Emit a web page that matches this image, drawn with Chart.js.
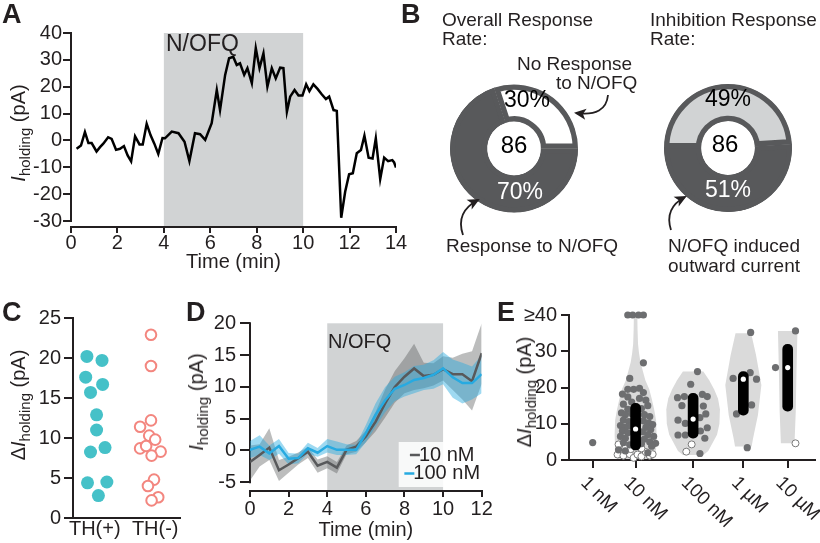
<!DOCTYPE html>
<html>
<head>
<meta charset="utf-8">
<script src="https://cdn.jsdelivr.net/npm/chart.js@4.4.1/dist/chart.umd.min.js"></script>
<style>
  body { margin: 0; background: #fff; }
  #fig { position: relative; width: 820px; height: 543px; overflow: hidden;
         font-family: "Liberation Sans", Arial, sans-serif; color: #231f20; }
  canvas { position: absolute; }
  .t { position: absolute; white-space: nowrap; line-height: 1; font-size: 19px; }
  .letter { font-weight: bold; font-size: 27px; }
  .yt { position: absolute; white-space: nowrap; line-height: 1; font-size: 20px;
        transform: translate(-50%, -50%) rotate(-90deg); }
  .yt sub { font-size: 15px; vertical-align: -5px; }
</style>
</head>
<body>
<div id="fig">
  <canvas id="chartA" width="410" height="285" style="left:0;top:0"></canvas>
  <canvas id="donutL" width="240" height="290" style="left:405px;top:0"></canvas>
  <canvas id="donutR" width="175" height="290" style="left:645px;top:0"></canvas>
  <canvas id="chartC" width="190" height="253" style="left:0;top:290px"></canvas>
  <canvas id="chartD" width="310" height="253" style="left:185px;top:290px"></canvas>
  <canvas id="chartE" width="325" height="253" style="left:495px;top:290px"></canvas>

  <div class="t letter" style="left:2px;top:1px">A</div>
  <div class="t letter" style="left:401px;top:1px">B</div>
  <div class="t letter" style="left:2px;top:299px">C</div>
  <div class="t letter" style="left:186px;top:299px">D</div>
  <div class="t letter" style="left:497px;top:299px">E</div>

  <div class="t" style="left:166px;top:32px;font-size:23px">N/OFQ</div>
  <div class="t" style="left:328px;top:331px;font-size:20px">N/OFQ</div>

  <div class="t" style="left:442px;top:10px">Overall Response</div>
  <div class="t" style="left:442px;top:29px">Rate:</div>
  <div class="t" style="left:517px;top:54px">No Response</div>
  <div class="t" style="left:556px;top:73px">to N/OFQ</div>
  <div class="t" style="left:446px;top:236px">Response to N/OFQ</div>
  <div class="t" style="left:650px;top:10px">Inhibition Response</div>
  <div class="t" style="left:650px;top:29px">Rate:</div>
  <div class="t" style="left:668px;top:236px">N/OFQ induced</div>
  <div class="t" style="left:668px;top:256px">outward current</div>

  <div class="yt" style="left:20px;top:133px"><i>I</i><sub>holding</sub> (pA)</div>
  <div class="yt" style="left:20px;top:405px">Δ<i>I</i><sub>holding</sub> (pA)</div>
  <div class="yt" style="left:198px;top:402px"><i>I</i><sub>holding</sub> (pA)</div>
  <div class="yt" style="left:526px;top:392px">Δ<i>I</i><sub>holding</sub> (pA)</div>
</div>

<script>
// ---------- dati ----------

// A: traccia singola
const aTime = [0.24, 0.43, 0.6, 0.75, 0.89, 1.1, 1.25, 1.39, 1.6, 1.75, 1.94, 2.11, 2.28, 2.44, 2.59, 2.76,
  2.95, 3.09, 3.26, 3.43, 3.59, 3.76, 3.94, 4.05, 4.34, 4.63, 4.89, 5.1, 5.34, 5.56, 5.78, 6.06, 6.28, 6.42,
  6.64, 6.81, 6.99, 7.14, 7.28, 7.46, 7.6, 7.79, 7.96, 8.12, 8.29, 8.46, 8.65, 8.82, 9.01, 9.15, 9.3, 9.44,
  9.63, 9.8, 9.97, 10.13, 10.27, 10.44, 10.62, 10.8, 10.98, 11.12, 11.31, 11.45, 11.64, 11.81, 11.98, 12.14,
  12.31, 12.49, 12.64, 12.82, 12.99, 13.13, 13.32, 13.49, 13.66, 13.84, 13.92, 14.0];
const aHolding = [-3.1, -1.9, 3.1, -1, -1, -4.1, -2.5, -1.2, 1.2, 0.6, -3.5, -3.1, -2.1, -5.6, -7.8, 1.5,
  -1.5, -1.5, 6.2, 1.9, -1.2, -5, 0.9, 0.8, 3.3, 2.7, -0.5, -7.7, 2.7, 2.3, 0.2, 6.4, 18.8, 11.3,
  24.4, 30.6, 31.1, 28.1, 28.7, 24.4, 26.9, 21.3, 34.3, 26.9, 32.4, 20, 26.9, 23.1, 27.1, 26.9, 10.7, 16.3,
  18.8, 16.7, 16.7, 20.9, 18.4, 20.9, 19.2, 17.2, 15.4, 16.3, 11.3, 11, -28.8, -19.1, -12.6, -12.2,
  -4.8, -3.6, 1.8, -6.4, -6.7, 0.8, -14.4, -6.4, -7.7, -7.3, -8.2, -10.1];
const aTicksX = [0, 2, 4, 6, 8, 10, 12, 14];
const aTicksY = [-30, -20, -10, 0, 10, 20, 30, 40];
const drugWindow = [4, 10];

// B: percentuali
const nCells = 86;
const overallPct = [70, 30];   // risposta, nessuna risposta
const inhibPct = [51, 49];     // corrente uscente, altro

// C: TH(+) / TH(-)
const thLabels = ['TH(+)', 'TH(-)'];
const thPos = [20.2, 19.7, 17.6, 16.7, 15.7, 12.9, 11.0, 8.8, 8.25, 4.4, 4.5, 2.8];
const thPosJit = [-0.13, 0.12, -0.15, 0.13, -0.07, 0.03, 0.03, 0.17, -0.07, -0.12, 0.2, 0.06];
const thNeg = [22.9, 19.0, 12.2, 11.4, 10.3, 9.8, 8.7, 9.0, 8.3, 7.8, 4.8, 4.0, 2.6, 2.2];
const thNegJit = [-0.07, -0.07, -0.07, -0.25, -0.1, 0.0, -0.25, -0.15, 0.09, -0.06, -0.02, -0.12, 0.05, -0.06];
const cTicksY = [0, 5, 10, 15, 20, 25];

// D: medie +/- SEM
const dTime = [0, 0.5, 1, 1.5, 2, 2.5, 3, 3.5, 4, 4.5, 5, 5.5, 6, 6.5, 7, 7.5, 8, 8.5, 9, 9.5, 10, 10.5, 11, 11.5, 12];
const d10Mean = [-1.8, -0.7, 0.45, -3.1, -2.2, -1.2, -0.2, -2.4, -1.8, -2.7, 0.1, 0.6, 2.2, 4.5, 7.4, 10, 11.6, 12.9, 11.7, 11.9, 12.8, 12, 12, 10.9, 15.3];
const d10Upper = [0.8, 1.0, 3.5, -1.5, -1.0, -0.3, 0.6, -1.4, -0.9, -1.8, 0.8, 1.5, 3.1, 6.0, 9.6, 12.5, 14.5, 16.8, 13.8, 13.7, 14.8, 14.6, 15.2, 15.6, 20.0];
const d10Lower = [-4.7, -2.5, -1.5, -4.8, -3.5, -2.2, -1.2, -3.5, -2.8, -3.6, -0.6, -0.2, 1.3, 3.0, 5.2, 7.5, 9.0, 9.5, 9.8, 10.2, 11.0, 9.5, 8.0, 6.3, 10.5];
const d100Mean = [0.1, 0.6, -0.45, 0.7, -1.3, -1.2, 0.35, -0.35, 0.7, 0.1, 0.1, 0.1, 2.7, 5.6, 7.9, 9.7, 10.3, 11.1, 11.4, 11.9, 12.9, 11.5, 10.6, 10.6, 12];
const d100Upper = [1.5, 2.4, 0.8, 1.8, -0.4, -0.5, 1.2, 0.4, 1.8, 1.4, 1.0, 0.9, 4.0, 7.4, 10.0, 11.6, 12.3, 13.3, 13.5, 14.2, 15.5, 14.3, 13.8, 13.2, 15.0];
const d100Lower = [-1.2, -0.7, -1.5, -0.5, -2.2, -2.0, -0.5, -1.0, -0.3, -0.7, -0.7, -0.6, 1.3, 3.7, 6.0, 7.8, 8.5, 9.0, 9.5, 9.7, 10.4, 8.3, 7.4, 8.0, 9.0];
const dTicksX = [0, 2, 4, 6, 8, 10, 12];
const dTicksY = [-5, 0, 5, 10, 15, 20];

// E: dose-risposta
const doseLabels = ['1 nM', '10 nM', '100 nM', '1 µM', '10 µM'];
const doseX = [0, 0.88, 2.06, 3.09, 4.0];
const eTicksY = [0, 10, 20, 30, 40];
const eFilled = [
  [[0, 4.8]],
  [[-0.16, 40], [-0.06, 40], [0.06, 40], [0.16, 40], [0.16, 26.8], [-0.12, 22.5],
   [-0.16, 19.5], [-0.04, 19.5], [0.08, 19.8], [0.16, 18.6], [-0.27, 18.2], [-0.16, 17.4], [0.08, 17.0],
   [0.21, 16.5], [-0.08, 16.0], [-0.25, 15.4], [0.25, 15.0], [-0.16, 14.0], [0.12, 14.2], [-0.29, 13.0],
   [-0.21, 12.5], [-0.08, 12.8], [0.18, 12.5], [0.29, 12.0], [-0.25, 11.0], [-0.14, 10.6], [0.16, 10.8],
   [0.27, 10.2], [0.35, 9.8], [-0.31, 9.5], [-0.21, 9.0], [-0.1, 9.4], [0.21, 9.0], [0.31, 8.4],
   [-0.27, 8.0], [-0.16, 7.5], [0.14, 7.8], [0.25, 7.0], [0.37, 6.5], [-0.31, 6.5], [-0.21, 6.0],
   [0.18, 5.8], [0.29, 5.0], [0.41, 4.6], [-0.25, 4.8], [-0.12, 4.2], [0.12, 4.5], [0.33, 3.8],
   [-0.35, 2.8], [-0.21, 2.5], [0.25, 2.0]],
  [[0.09, 24.4], [-0.05, 20.9], [-0.32, 17.2], [-0.18, 17.5], [0.19, 18.1], [0.29, 17.5], [-0.23, 15.0],
   [0.21, 14.9], [0.26, 12.7], [0.14, 11.7], [-0.31, 11.0], [-0.16, 10.1], [0.15, 8.0], [0.29, 8.9],
   [-0.31, 6.9], [-0.16, 6.9], [0.24, 6.0], [0.14, 1.8]],
  [[0.15, 35.2], [-0.21, 22.5], [0.14, 24.1], [0.27, 22.3], [0.17, 15.2], [-0.14, 12.7], [0.08, 3.4]],
  [[0.16, 35.6], [-0.25, 25.5]]
];
const eOpen = [
  [],
  [[-0.35, 4.3], [-0.21, 3.2], [-0.37, 1.5], [-0.25, 1.2], [-0.12, 1.6], [-0.04, 0.6], [0.04, 1.5],
   [0.12, 1.0], [0.21, 2.2], [0.29, 1.2], [0.35, 1.6], [-0.1, 3.0], [0.12, 3.2]],
  [[-0.03, 4.3], [-0.14, 2.3]],
  [],
  [[0.16, 4.6]]
];
const eQ1 = [null, 2.75, 6.0, 12.4, 13.5];
const eQ3 = [null, 15.6, 18.4, 24.4, 31.9];
const eMedian = [null, 8.55, 11.3, 22.3, 25.5];
// profili violino: [valore, semi-larghezza]
const eViolins = [
  null,
  [[0.3, 0.37], [3, 0.42], [7, 0.43], [11, 0.42], [14, 0.38], [17, 0.33], [19.5, 0.28], [22, 0.2],
   [24.5, 0.15], [27, 0.1], [29.5, 0.07], [32, 0.05], [36, 0.04], [40, 0.035]],
  [[1.4, 0.21], [2.5, 0.31], [4.5, 0.39], [7, 0.49], [10, 0.54], [14, 0.55], [17, 0.51], [19.5, 0.43],
   [22, 0.33], [24.4, 0.21]],
  [[3.7, 0.17], [6, 0.2], [12.4, 0.3], [20.7, 0.37], [29, 0.26], [35, 0.16]],
  [[4.6, 0.14], [13.3, 0.165], [24.4, 0.18], [35.6, 0.2]]
];

// ---------- stile ----------
const INK = '#231f20';
const DARK = '#58595b';
const BLUE = '#27aae1';
Chart.defaults.font.family = '"Liberation Sans", Arial, sans-serif';
Chart.defaults.font.size = 20;
Chart.defaults.color = INK;
Chart.defaults.animation = false;
Chart.defaults.events = [];
Chart.defaults.plugins.legend.display = false;
Chart.defaults.plugins.tooltip.enabled = false;

const tickFont = { size: 20, lineHeight: 1 };
const pts = (xs, ys) => xs.map((x, i) => ({ x: x, y: ys[i] }));
const fixedTicks = values => scale => { scale.ticks = values.map(v => ({ value: v })); };
const axisBox = size => scale => { if (scale.isHorizontal()) scale.height = size; else scale.width = size; };
const tickGrid = len => ({ drawOnChartArea: false, tickLength: len, lineWidth: 2, color: INK });

// fascia grigia del farmaco
const shade = (from, to) => ({
  id: 'shade',
  beforeDatasetsDraw(chart) {
    const { ctx, chartArea, scales: { x } } = chart;
    const x0 = x.getPixelForValue(from), x1 = x.getPixelForValue(to);
    ctx.save();
    ctx.fillStyle = '#d1d3d4';
    ctx.fillRect(x0, chartArea.top, x1 - x0, chartArea.bottom - 1 - chartArea.top);
    ctx.restore();
  }
});

// asse y staccato (solo dal primo all'ultimo tick)
const yLine = {
  id: 'yLine',
  beforeDatasetsDraw(chart) {
    const { ctx, chartArea, scales: { y } } = chart;
    const t = y.ticks;
    ctx.save();
    ctx.strokeStyle = INK;
    ctx.lineWidth = 2;
    ctx.beginPath();
    ctx.moveTo(chartArea.left, y.getPixelForValue(t[0].value) + 1);
    ctx.lineTo(chartArea.left, y.getPixelForValue(t[t.length - 1].value) - 1);
    ctx.stroke();
    ctx.restore();
  }
};

// ---------- A ----------
new Chart(document.getElementById('chartA'), {
  type: 'line',
  data: { datasets: [{ data: pts(aTime, aHolding), borderColor: '#000', borderWidth: 2.5, pointRadius: 0 }] },
  options: {
    responsive: false,
    layout: { padding: { top: 33, right: 14, left: 0, bottom: 0 } },
    scales: {
      x: {
        type: 'linear', min: 0, max: 14,
        afterBuildTicks: fixedTicks(aTicksX), afterFit: axisBox(58),
        grid: tickGrid(6), border: { width: 2, color: INK },
        ticks: { padding: 0, font: tickFont, maxRotation: 0 },
        title: { display: true, text: 'Time (min)', font: { size: 20 }, padding: { top: 0, bottom: 11 } }
      },
      y: {
        min: -32.23, max: 40,
        afterBuildTicks: fixedTicks(aTicksY), afterFit: axisBox(71),
        grid: tickGrid(8), border: { display: false },
        ticks: { padding: 1, font: tickFont }
      }
    }
  },
  plugins: [shade(drugWindow[0], drugWindow[1]), yLine]
});

// ---------- B ----------
function donutNotes(labels, arrows) {
  return {
    id: 'donutNotes',
    // anello scuro sotto gli archi, per non lasciare fessure tra gli spicchi
    beforeDatasetsDraw(chart) {
      const arc = chart.getDatasetMeta(0).data[0];
      const { ctx } = chart;
      ctx.save();
      ctx.fillStyle = DARK;
      ctx.beginPath();
      ctx.arc(arc.x, arc.y, arc.outerRadius - 0.5, 0, Math.PI * 2);
      ctx.arc(arc.x, arc.y, arc.innerRadius + 0.5, 0, Math.PI * 2, true);
      ctx.fill();
      ctx.restore();
    },
    afterDraw(chart) {
      const { ctx } = chart;
      const arc = chart.getDatasetMeta(0).data[0];
      const cx = arc.x, cy = arc.y;
      ctx.save();
      ctx.textAlign = 'center';
      ctx.textBaseline = 'middle';
      labels.forEach(l => {
        ctx.font = l.size + 'px "Liberation Sans", Arial, sans-serif';
        ctx.fillStyle = l.color;
        ctx.fillText(l.text, cx + l.dx, cy + l.dy);
      });
      ctx.strokeStyle = INK;
      ctx.fillStyle = INK;
      ctx.lineWidth = 1.8;
      arrows.forEach(([sx, sy, qx, qy, ex, ey]) => {
        ctx.beginPath();
        ctx.moveTo(cx + sx, cy + sy);
        ctx.quadraticCurveTo(cx + qx, cy + qy, cx + ex, cy + ey);
        ctx.stroke();
        const a = Math.atan2(ey - qy, ex - qx);
        ctx.save();
        ctx.translate(cx + ex, cy + ey);
        ctx.rotate(a);
        ctx.beginPath();
        ctx.moveTo(2, 0);
        ctx.lineTo(-10, -5.5);
        ctx.lineTo(-7, 0);
        ctx.lineTo(-10, 5.5);
        ctx.closePath();
        ctx.fill();
        ctx.restore();
      });
      ctx.restore();
    }
  };
}

function donut(id, values, colors, rotation, pad, notes) {
  new Chart(document.getElementById(id), {
    type: 'doughnut',
    data: { datasets: [{ data: values, backgroundColor: colors, borderColor: DARK, borderWidth: 5, borderAlign: 'inner' }] },
    options: {
      responsive: false, radius: 64, cutout: '42%', rotation: rotation,
      layout: { padding: pad }
    },
    plugins: [notes]
  });
}

// spicchio chiaro che termina a ore 3 (sinistra) / inizia a ore 9 (destra)
donut('donutL', overallPct, [DARK, '#ffffff'], 90, { left: 0, right: 22, top: 7, bottom: 0 },
  donutNotes([
    { text: String(nCells), dx: 0, dy: -2, size: 24, color: '#000' },
    { text: overallPct[1] + '%', dx: 13, dy: -48, size: 23, color: '#000' },
    { text: overallPct[0] + '%', dx: 6, dy: 44, size: 23, color: '#fff' }
  ], [
    [94, -53.5, 92, -31.5, 62, -35.5],
    [-51, 86.5, -59, 63.5, -36, 51.5]
  ]));

donut('donutR', inhibPct, [DARK, '#d1d3d4'], 270 - 3.6 * inhibPct[0], { left: 0, right: 9, top: 6, bottom: 0 },
  donutNotes([
    { text: String(nCells), dx: -3, dy: -3, size: 24, color: '#000' },
    { text: inhibPct[1] + '%', dx: 0, dy: -48, size: 23, color: '#000' },
    { text: inhibPct[0] + '%', dx: 0, dy: 43, size: 23, color: '#fff' }
  ], [
    [-57, 82, -64, 60, -43, 49]
  ]));

// ---------- C ----------
new Chart(document.getElementById('chartC'), {
  type: 'scatter',
  data: {
    datasets: [
      { data: thPos.map((v, i) => ({ x: 1 + thPosJit[i], y: v })), pointRadius: 6.5,
        backgroundColor: '#45c1c8', borderWidth: 0, clip: false },
      { data: thNeg.map((v, i) => ({ x: 2 + thNegJit[i], y: v })), pointRadius: 5.3,
        backgroundColor: '#ffffff', borderColor: '#f3867f', borderWidth: 2, clip: false }
    ]
  },
  options: {
    responsive: false,
    layout: { padding: { top: 28, right: 10, left: 0, bottom: 0 } },
    scales: {
      x: {
        type: 'linear', min: 0.64, max: 2.41,
        afterBuildTicks: fixedTicks([1, 2]), afterFit: axisBox(25),
        grid: { display: false, drawTicks: false, tickLength: 0 }, border: { width: 2, color: INK },
        ticks: { padding: 1, font: tickFont, maxRotation: 0, callback: (v, i) => thLabels[i] }
      },
      y: {
        min: 0, max: 25,
        afterBuildTicks: fixedTicks(cTicksY), afterFit: axisBox(73),
        grid: tickGrid(9), border: { width: 2, color: INK },
        ticks: { padding: 3, font: tickFont }
      }
    }
  }
});

// ---------- D ----------
const boxLegend = {
  id: 'boxLegend',
  afterDatasetsDraw(chart) {
    const { ctx, chartArea } = chart;
    const rows = [chart.data.datasets[1], chart.data.datasets[0]];
    const midX = chartArea.right - 39;
    ctx.save();
    ctx.fillStyle = 'rgba(255,255,255,0.85)';
    ctx.fillRect(chartArea.right - 83, chartArea.bottom - 49, 91, 45);
    ctx.font = '20px "Liberation Sans", Arial, sans-serif';
    ctx.textBaseline = 'middle';
    rows.forEach((ds, i) => {
      const y = chartArea.bottom - 36 + i * 18.5;
      const w = ctx.measureText(ds.label).width + 10;
      const x0 = midX - w / 2;
      ctx.strokeStyle = ds.borderColor;
      ctx.lineWidth = 2.5;
      ctx.beginPath();
      ctx.moveTo(x0, y);
      ctx.lineTo(x0 + 10, y);
      ctx.stroke();
      ctx.fillStyle = INK;
      ctx.fillText(ds.label, x0 + 9, y);
    });
    ctx.restore();
  }
};

const band = (ys, fill, color) => ({
  data: pts(dTime, ys), borderWidth: 0, borderColor: 'transparent', pointRadius: 0,
  fill: fill, backgroundColor: color
});

new Chart(document.getElementById('chartD'), {
  type: 'line',
  data: {
    datasets: [
      { label: '100 nM', data: pts(dTime, d100Mean), borderColor: BLUE, borderWidth: 2.5, pointRadius: 0 },
      { label: '10 nM', data: pts(dTime, d10Mean), borderColor: DARK, borderWidth: 2.5, pointRadius: 0 },
      band(d100Upper, '+1', 'rgba(39,170,225,0.45)'),
      band(d100Lower, false, 'transparent'),
      band(d10Upper, '+1', 'rgba(88,89,91,0.4)'),
      band(d10Lower, false, 'transparent')
    ]
  },
  options: {
    responsive: false,
    layout: { padding: { top: 33.3, right: 13.3, left: 0, bottom: 0 } },
    scales: {
      x: {
        type: 'linear', min: 0, max: 12,
        afterBuildTicks: fixedTicks(dTicksX), afterFit: axisBox(52),
        grid: tickGrid(6), border: { width: 2, color: INK },
        ticks: { padding: 2, font: tickFont, maxRotation: 0 },
        title: { display: true, text: 'Time (min)', font: { size: 20 }, padding: { top: 0, bottom: 0.5 } }
      },
      y: {
        min: -6.37, max: 20,
        afterBuildTicks: fixedTicks(dTicksY), afterFit: axisBox(65),
        grid: tickGrid(10), border: { display: false },
        ticks: { padding: 4, font: tickFont }
      }
    }
  },
  plugins: [shade(drugWindow[0], drugWindow[1]), yLine, boxLegend]
});

// ---------- E ----------
const violins = {
  id: 'violins',
  beforeDatasetsDraw(chart) {
    const { ctx, scales: { x, y } } = chart;
    ctx.save();
    ctx.fillStyle = '#dadada';
    eViolins.forEach((prof, i) => {
      if (!prof) return;
      ctx.beginPath();
      prof.forEach(([v, w], k) => {
        const px = x.getPixelForValue(doseX[i] - w), py = y.getPixelForValue(v);
        if (k) ctx.lineTo(px, py); else ctx.moveTo(px, py);
      });
      for (let k = prof.length - 1; k >= 0; k--) {
        ctx.lineTo(x.getPixelForValue(doseX[i] + prof[k][1]), y.getPixelForValue(prof[k][0]));
      }
      ctx.closePath();
      ctx.fill();
    });
    ctx.restore();
  }
};

const slantLabels = {
  id: 'slantLabels',
  afterDraw(chart) {
    const { ctx, chartArea, scales: { x } } = chart;
    ctx.save();
    ctx.font = '19px "Liberation Sans", Arial, sans-serif';
    ctx.fillStyle = INK;
    ctx.textAlign = 'left';
    ctx.textBaseline = 'middle';
    doseLabels.forEach((lab, i) => {
      ctx.save();
      ctx.translate(x.getPixelForValue(doseX[i]) - 9, chartArea.bottom + 20);
      ctx.rotate(Math.PI / 4);
      ctx.fillText(lab, 0, 0);
      ctx.restore();
    });
    ctx.restore();
  }
};

const flat = groups => groups.flatMap((g, i) => g.map(([dx, v]) => ({ x: doseX[i] + dx, y: v })));
const idx = doseX.map((x, i) => i).filter(i => eQ1[i] !== null);

new Chart(document.getElementById('chartE'), {
  type: 'scatter',
  data: {
    datasets: [
      { data: idx.map(i => ({ x: doseX[i], y: eMedian[i] })), pointRadius: 2.6,
        backgroundColor: '#ffffff', borderWidth: 0 },
      { type: 'bar', data: idx.map(i => ({ x: doseX[i], y: [eQ1[i], eQ3[i]] })),
        backgroundColor: '#000000', barThickness: 10, borderRadius: 5, borderSkipped: false },
      { data: flat(eFilled), pointRadius: 3.6, backgroundColor: '#6d6e70', borderWidth: 0, clip: false },
      { data: flat(eOpen), pointRadius: 3.5, backgroundColor: '#ffffff', borderColor: '#7a7a7a', borderWidth: 1, clip: false }
    ]
  },
  options: {
    responsive: false,
    layout: { padding: { top: 25, right: 5, left: 0, bottom: 0 } },
    scales: {
      x: {
        type: 'linear', min: -0.486, max: 4.56, offset: false,
        afterBuildTicks: fixedTicks(doseX), afterFit: axisBox(83),
        grid: Object.assign(tickGrid(8), { offset: false }), border: { width: 2, color: INK },
        ticks: { display: false }
      },
      y: {
        min: 0, max: 40,
        afterBuildTicks: fixedTicks(eTicksY), afterFit: axisBox(74),
        grid: tickGrid(8), border: { width: 2, color: INK },
        ticks: { padding: 4, font: tickFont, callback: v => (v === 40 ? '≥40' : v) }
      }
    }
  },
  plugins: [violins, slantLabels]
});
</script>
</body>
</html>
